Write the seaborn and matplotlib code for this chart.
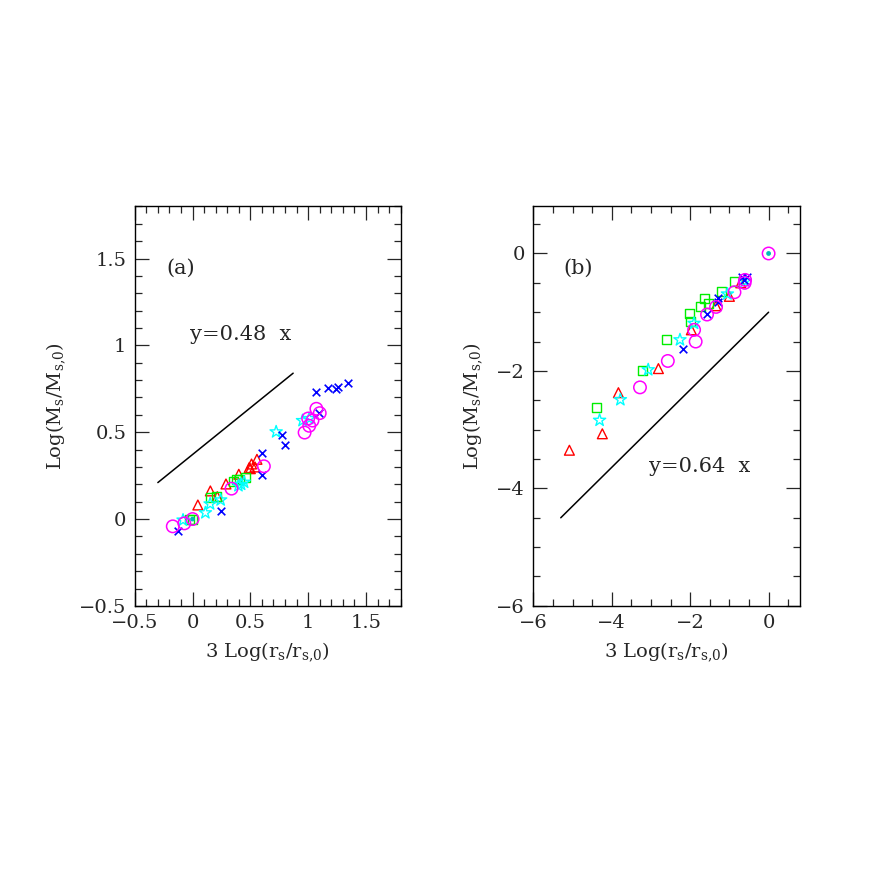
import numpy as np
import pandas as pd
import seaborn as sns
import matplotlib.pyplot as plt
from matplotlib.ticker import MultipleLocator

sns.set_style('white')
plt.rcParams['font.family'] = ['DejaVu Serif']
plt.rcParams['mathtext.fontset'] = 'dejavuserif'

# ---- panel (a) data ----
a_tri_x = [0.046, 0.154, 0.214, 0.289, 0.40, 0.49, 0.51, 0.54, 0.557, 0.50]
a_tri_y = [0.081, 0.162, 0.129, 0.202, 0.258, 0.296, 0.317, 0.30, 0.344, 0.29]
a_sq_x = [-0.028, 0.0, 0.152, 0.21, 0.352, 0.38, 0.41, 0.454]
a_sq_y = [0.0, 0.0, 0.123, 0.13, 0.215, 0.23, 0.225, 0.238]
a_star_x = [-0.082, 0.111, 0.152, 0.243, 0.397, 0.446, 0.723, 0.951, 1.009, 0.42]
a_star_y = [-0.006, 0.036, 0.087, 0.11, 0.192, 0.212, 0.502, 0.567, 0.579, 0.20]
a_x_x = [-0.126, 0.243, 0.60, 0.603, 0.777, 0.797, 1.066, 1.169, 1.237, 1.257, 1.343, 1.094]
a_x_y = [-0.067, 0.044, 0.252, 0.383, 0.485, 0.425, 0.731, 0.752, 0.748, 0.763, 0.781, 0.61]
a_circ_x = [-0.171, -0.071, 0.0, 0.337, 0.617, 0.969, 1.009, 1.037, 1.0, 1.071, 1.10]
a_circ_y = [-0.042, -0.025, 0.0, 0.175, 0.304, 0.498, 0.537, 0.567, 0.579, 0.635, 0.61]
a_line_x = [-0.30, 0.87]
a_line_y = [0.21, 0.84]

# ---- panel (b) data ----
b_tri_x = [-5.08, -4.24, -3.83, -2.81, -1.97, -1.34, -1.0, -0.71]
b_tri_y = [-3.35, -3.07, -2.37, -1.96, -1.30, -0.89, -0.73, -0.50]
b_sq_x = [-4.38, -3.22, -2.61, -2.02, -2.0, -1.73, -1.63, -1.52, -1.2, -0.88]
b_sq_y = [-2.62, -2.0, -1.46, -1.03, -1.16, -0.90, -0.77, -0.85, -0.64, -0.48]
b_star_x = [-4.31, -3.78, -3.07, -2.26, -1.90, -1.05, -0.60]
b_star_y = [-2.84, -2.49, -1.98, -1.47, -1.19, -0.69, -0.47]
b_x_x = [-2.19, -1.58, -1.28, -1.28, -0.68, -0.55, -0.62]
b_x_y = [-1.63, -1.03, -0.76, -0.83, -0.40, -0.40, -0.45]
b_circ_x = [-3.28, -2.57, -1.86, -1.90, -1.57, -1.34, -0.87, -0.61, -0.60, 0.0]
b_circ_y = [-2.28, -1.83, -1.50, -1.30, -1.04, -0.91, -0.66, -0.50, -0.45, 0.0]
b_line_x = [-5.3, 0.0]
b_line_y = [-4.5, -1.0]

origin_x = [0.0]
origin_y = [0.0]


def draw(ax, tri, sq, star, xx, circ, line):
    sns.lineplot(x=line[0], y=line[1], ax=ax, color='black', linewidth=1.1,
                 sort=False)
    sns.scatterplot(x=tri[0], y=tri[1], ax=ax, marker='^', s=50,
                    facecolors='none', edgecolors='red', linewidth=1.0)
    sns.scatterplot(x=sq[0], y=sq[1], ax=ax, marker='s', s=42,
                    facecolors='none', edgecolors='#00ee00', linewidth=1.0)
    sns.scatterplot(x=star[0], y=star[1], ax=ax, marker='*', s=85,
                    facecolors='none', edgecolors='cyan', linewidth=1.0)
    sns.scatterplot(x=xx[0], y=xx[1], ax=ax, marker='x', s=30,
                    color='blue', linewidth=1.2)
    sns.scatterplot(x=circ[0], y=circ[1], ax=ax, marker='o', s=80,
                    facecolors='none', edgecolors='magenta', linewidth=1.1)
    sns.scatterplot(x=origin_x, y=origin_y, ax=ax, marker='o', s=12,
                    color='#00bbbb', edgecolor='none')


def style(ax, major_x, minor_x, major_y, minor_y):
    ax.xaxis.set_major_locator(MultipleLocator(major_x))
    ax.xaxis.set_minor_locator(MultipleLocator(minor_x))
    ax.yaxis.set_major_locator(MultipleLocator(major_y))
    ax.yaxis.set_minor_locator(MultipleLocator(minor_y))
    ax.tick_params(which='both', direction='in', top=True, right=True,
                   bottom=True, left=True, width=0.9, labelsize=14, pad=6)
    ax.tick_params(which='major', length=10)
    ax.tick_params(which='minor', length=5)
    for s in ax.spines.values():
        s.set_linewidth(1.0)
        s.set_color('black')
    ax.set_xlabel(r'3 Log($\mathrm{r_s/r_{s{,}0}}$)', fontsize=14, labelpad=6)
    ax.set_ylabel(r'Log($\mathrm{M_s/M_{s{,}0}}$)', fontsize=14, labelpad=8)


fig = plt.figure(figsize=(8.72, 8.72), dpi=100)

ax1 = fig.add_axes([0.1545, 0.3052, 0.305, 0.458])
draw(ax1, (a_tri_x, a_tri_y), (a_sq_x, a_sq_y), (a_star_x, a_star_y),
     (a_x_x, a_x_y), (a_circ_x, a_circ_y), (a_line_x, a_line_y))
style(ax1, 0.5, 0.1, 0.5, 0.1)
ax1.set_xticks([-0.5, 0, 0.5, 1, 1.5], ['\u22120.5', '0', '0.5', '1', '1.5'])
ax1.set_yticks([-0.5, 0, 0.5, 1, 1.5], ['\u22120.5', '0', '0.5', '1', '1.5'])
ax1.set_xlim(-0.5, 1.8)
ax1.set_ylim(-0.5, 1.8)
ax1.text(-0.105, 1.447, '(a)', fontsize=15, ha='center', va='center')
ax1.text(0.42, 1.06, 'y=0.48  x', fontsize=15, ha='center', va='center')

ax2 = fig.add_axes([0.6116, 0.3052, 0.3058, 0.458])
draw(ax2, (b_tri_x, b_tri_y), (b_sq_x, b_sq_y), (b_star_x, b_star_y),
     (b_x_x, b_x_y), (b_circ_x, b_circ_y), (b_line_x, b_line_y))
style(ax2, 2, 0.5, 2, 0.5)
ax2.set_xticks([-6, -4, -2, 0], ['\u22126', '\u22124', '\u22122', '0'])
ax2.set_yticks([-6, -4, -2, 0], ['\u22126', '\u22124', '\u22122', '0'])
ax2.set_xlim(-6, 0.8)
ax2.set_ylim(-6, 0.8)
ax2.text(-4.87, -0.25, '(b)', fontsize=15, ha='center', va='center')
ax2.text(-1.75, -3.63, 'y=0.64  x', fontsize=15, ha='center', va='center')

fig.savefig('out.png', dpi=100, facecolor='white')
